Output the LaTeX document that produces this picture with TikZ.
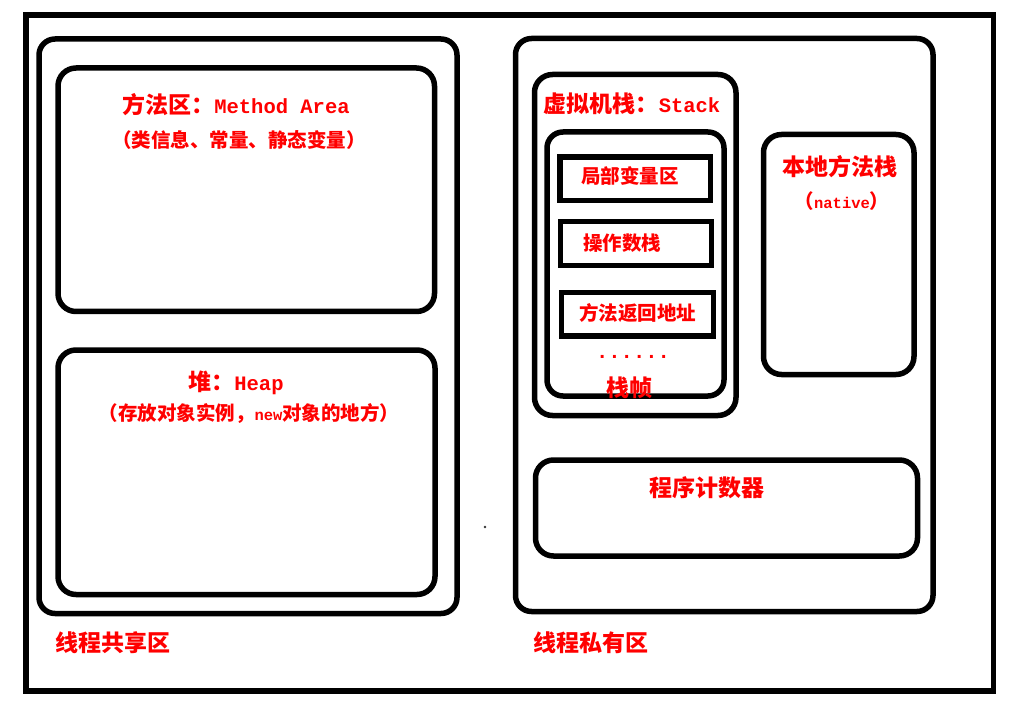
\documentclass[tikz,border=0pt]{standalone}
\usepackage{fontspec}
\newfontfamily\cjk{Noto Sans CJK SC}
\setmonofont{Liberation Mono}
\newcommand\bigcjk{\cjk\bfseries\fontsize{23}{27}\selectfont}
\newcommand\bigmono{\ttfamily\bfseries\fontsize{20.5}{24}\selectfont}
\newcommand\midcjk{\cjk\bfseries\fontsize{19.5}{23}\selectfont}
\newcommand\smlcjk{\cjk\bfseries\fontsize{19.5}{23}\selectfont}
\newcommand\smlmono{\ttfamily\bfseries\fontsize{15.5}{18}\selectfont}
\begin{document}
\begin{tikzpicture}[x=1pt,y=-1pt,
  region/.style={draw=black,line width=5.5pt,rounded corners=16pt},
  cell/.style={draw=black,line width=5.5pt},
  lab/.style={text=red,inner sep=0pt,anchor=center}]
\useasboundingbox (0,0) rectangle (1012,703);
\fill[white] (0,0) rectangle (1012,703);
% outer frame
\draw[cell] (26,15) rectangle (993.5,691);
% shared area
\draw[region] (39,39) rectangle (457,613.5);
\draw[region,rounded corners=18pt] (58,68) rectangle (434.5,311.5);
\draw[region,rounded corners=18pt] (58,350) rectangle (435,594.5);
% private area
\draw[region] (515.5,38.5) rectangle (933,611.5);
\draw[region,rounded corners=18pt] (534.5,74.5) rectangle (736,415.5);
\draw[region,rounded corners=16pt] (547,132) rectangle (724,396);
\draw[cell] (560,157) rectangle (710.5,200.5);
\draw[cell] (560.5,221.5) rectangle (711.5,265.5);
\draw[cell] (561.5,292.5) rectangle (713.5,336);
\draw[region,rounded corners=18pt] (763.5,134.5) rectangle (914,374.5);
\draw[region,rounded corners=18pt] (535.5,460) rectangle (917.5,556);
% stray dot
\fill[black!80] (485,527) circle (1.3pt);
% labels
\node[lab] (ma) at (236,105) {\bigcjk 方法区：{\bigmono Method Area}};
\node[lab] (mad) at (239,140) {\smlcjk （类信息、常量、静态变量）};
\node[lab] (hp) at (236,383) {\bigcjk 堆：{\bigmono Heap}};
\node[lab] (hpd) at (249,414) {\smlcjk （存放对象实例，{\smlmono new}对象的地方）};
\node[lab] (shr) at (112.5,643) {\bigcjk 线程共享区};
\node[lab] (vms) at (632,104) {\bigcjk 虚拟机栈：{\bigmono Stack}};
\node[lab] (lv) at (630,176) {\midcjk 局部变量区};
\node[lab] (os) at (622,243) {\midcjk 操作数栈};
\node[lab] (ra) at (637.5,313) {\midcjk 方法返回地址};
\node[lab] (dots) at (633,357) {\bigmono ......};
\node[lab] (fr) at (629.5,388) {\bigcjk 栈帧};
\node[lab] (nat) at (840,167) {\bigcjk 本地方法栈};
\node[lab] (natd) at (842,201) {\smlcjk （{\smlmono native}）};
\node[lab] (pc) at (707,488) {\bigcjk 程序计数器};
\node[lab] (prv) at (591,643) {\bigcjk 线程私有区};
\end{tikzpicture}
\end{document}
